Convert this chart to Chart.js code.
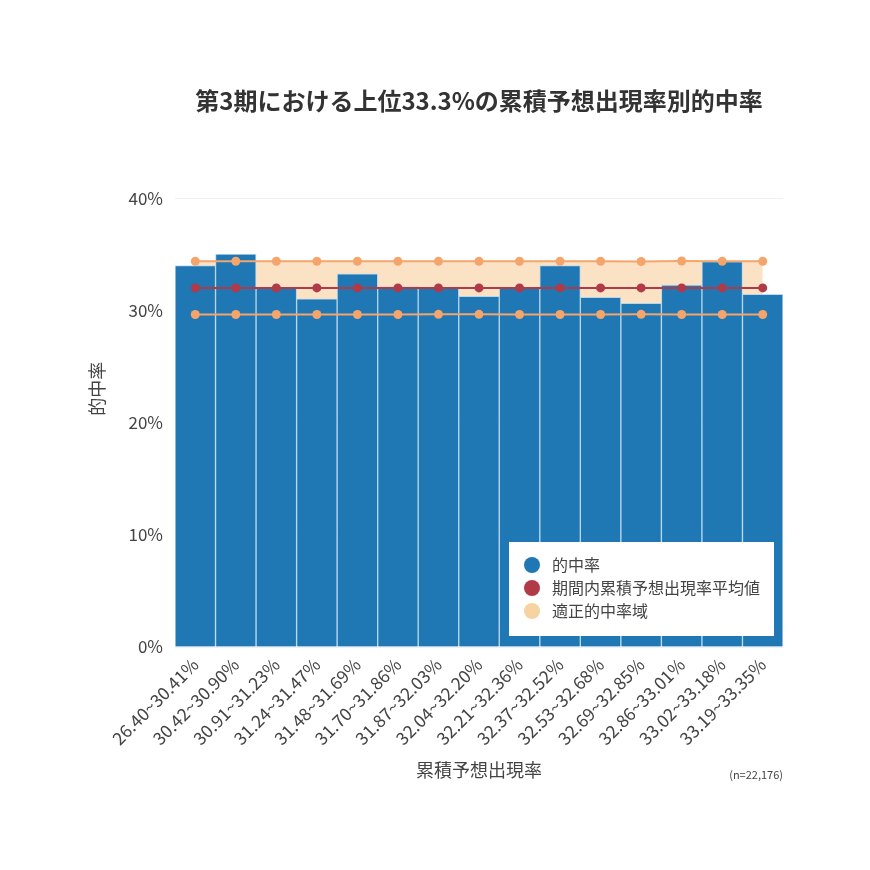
<!DOCTYPE html>
<html>
<head>
<meta charset="utf-8">
<script src="https://cdn.jsdelivr.net/npm/chart.js@4.4.1/dist/chart.umd.min.js"></script>
<style>
html,body{margin:0;padding:0;background:#fff;}
#wrap{width:870px;height:870px;}
</style>
</head>
<body>
<div id="wrap"><canvas id="c" width="870" height="870"></canvas></div>
<script>
const categories = ["26.40~30.41%","30.42~30.90%","30.91~31.23%","31.24~31.47%","31.48~31.69%","31.70~31.86%","31.87~32.03%","32.04~32.20%","32.21~32.36%","32.37~32.52%","32.53~32.68%","32.69~32.85%","32.86~33.01%","33.02~33.18%","33.19~33.35%"];
const hitRate = [34.04, 35.06, 32.0, 31.07, 33.3, 32.17, 32.0, 31.3, 32.0, 34.03, 31.2, 30.67, 32.3, 34.4, 31.47];
const meanRate = [32.05, 32.05, 32.05, 32.05, 32.05, 32.05, 32.05, 32.05, 32.05, 32.05, 32.05, 32.05, 32.05, 32.05, 32.05];
const upperBand = [34.43, 34.43, 34.43, 34.43, 34.43, 34.43, 34.43, 34.43, 34.43, 34.43, 34.43, 34.40, 34.45, 34.43, 34.43];
const lowerBand = [29.67, 29.67, 29.67, 29.67, 29.67, 29.67, 29.69, 29.69, 29.67, 29.67, 29.67, 29.69, 29.67, 29.67, 29.67];
const yTicks = [0, 10, 20, 30, 40];
const seriesNames = ["的中率", "期間内累積予想出現率平均値", "適正的中率域"];
const titleText = "第3期における上位33.3%の累積予想出現率別的中率";
const xTitle = "累積予想出現率";
const yTitle = "的中率";
const noteText = "(n=22,176)";

const FONT = "'Noto Sans CJK JP','Noto Sans',sans-serif";
const legendColors = ["#1f77b4", "#b03a48", "#f7d3a1"];

const extrasPlugin = {
  id: 'extras',
  afterLayout(chart) {
    const tb = chart.titleBlock;
    if (tb) { tb.left = chart.chartArea.left; tb.right = chart.chartArea.right; }
  },
  afterDraw(chart) {
    const {ctx, chartArea} = chart;
    const w = 265, h = 94;
    const x1 = chartArea.right - 9, y1 = chartArea.bottom - 11;
    const x0 = x1 - w, y0 = y1 - h;
    ctx.save();
    ctx.fillStyle = '#ffffff';
    ctx.fillRect(x0, y0, w, h);
    ctx.font = "16px " + FONT;
    ctx.textBaseline = 'middle';
    ctx.textAlign = 'left';
    for (let i = 0; i < seriesNames.length; i++) {
      const cy = y0 + 23 + i * 23;
      ctx.beginPath();
      ctx.fillStyle = legendColors[i];
      ctx.arc(x0 + 23, cy, 8, 0, Math.PI * 2);
      ctx.fill();
      ctx.fillStyle = '#444';
      ctx.fillText(seriesNames[i], x0 + 43, cy);
    }
    ctx.save();
    ctx.translate(97, chartArea.top + 190);
    ctx.rotate(-Math.PI / 2);
    ctx.font = "18px " + FONT;
    ctx.textAlign = 'center';
    ctx.fillStyle = '#444';
    ctx.fillText(yTitle, 0, 0);
    ctx.restore();
    ctx.font = "11px " + FONT;
    ctx.textAlign = 'right';
    ctx.fillStyle = '#444';
    ctx.fillText(noteText, chartArea.right, chartArea.bottom + 128);
    ctx.restore();
  }
};

new Chart(document.getElementById('c'), {
  data: {
    labels: categories,
    datasets: [
      {
        type: 'line', label: '上限', data: upperBand,
        borderColor: '#f5a56c', borderWidth: 2,
        pointBackgroundColor: '#f5a56c', pointBorderWidth: 0, pointRadius: 4.5,
        backgroundColor: 'rgba(248,207,158,0.6)',
        fill: '+1', tension: 0, order: 1
      },
      {
        type: 'line', label: '下限', data: lowerBand,
        borderColor: '#f5a56c', borderWidth: 2,
        pointBackgroundColor: '#f5a56c', pointBorderWidth: 0, pointRadius: 4.5,
        fill: false, tension: 0, order: 1
      },
      {
        type: 'line', label: seriesNames[1], data: meanRate,
        borderColor: '#b03a48', borderWidth: 2,
        pointBackgroundColor: '#b03a48', pointBorderWidth: 0, pointRadius: 4.5,
        fill: false, tension: 0, order: 0
      },
      {
        type: 'bar', label: seriesNames[0], data: hitRate,
        backgroundColor: '#1f77b4',
        borderColor: 'rgba(170,210,240,0.8)', borderWidth: 1,
        barPercentage: 1.0, categoryPercentage: 1.0, order: 2
      }
    ]
  },
  options: {
    responsive: false,
    animation: false,
    devicePixelRatio: 1,
    layout: { padding: { left: 0, right: 87, top: 0, bottom: 85 } },
    plugins: {
      legend: { display: false },
      tooltip: { enabled: false },
      filler: { drawTime: 'beforeDatasetsDraw' },
      title: {
        display: true, text: titleText, color: '#333',
        font: { family: FONT, size: 24, weight: 'bold' },
        padding: { top: 86, bottom: 84 }
      }
    },
    scales: {
      x: {
        type: 'category',
        grid: { display: false, drawTicks: false },
        border: { display: false },
        ticks: {
          color: '#444', font: { family: FONT, size: 17.5 },
          minRotation: 45, maxRotation: 45, padding: 7, autoSkip: false
        },
        title: {
          display: true, text: xTitle, color: '#444',
          font: { family: FONT, size: 18 }, padding: { top: 0, bottom: 4 }
        },
        afterFit(scale) { scale.height = 138; }
      },
      y: {
        min: 0, max: 40,
        afterBuildTicks(scale) { scale.ticks = yTicks.map(v => ({ value: v })); },
        grid: { color: '#f0f0f0', drawTicks: false },
        border: { display: false },
        ticks: {
          color: '#444', font: { family: FONT, size: 17 }, padding: 12,
          callback: v => v + '%'
        },
        afterFit(scale) { scale.width = 175; }
      }
    }
  },
  plugins: [extrasPlugin]
});
</script>
</body>
</html>
